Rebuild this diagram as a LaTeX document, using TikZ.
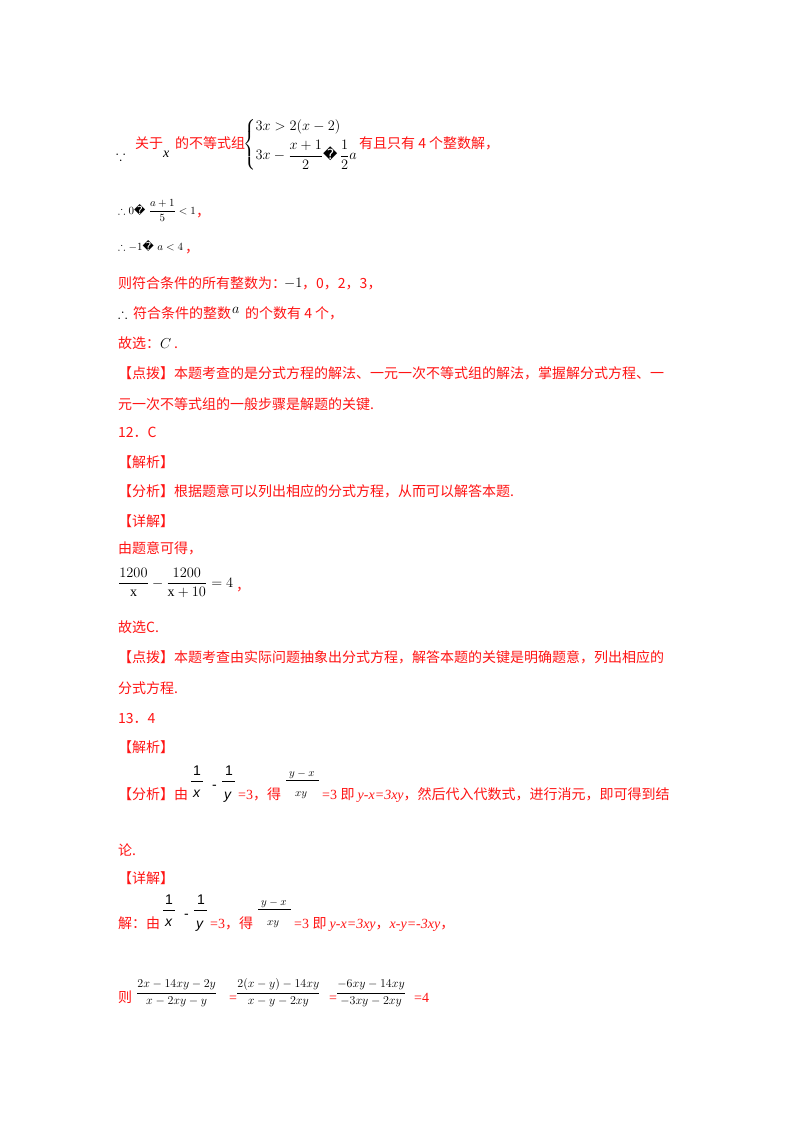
\documentclass[tikz,border=0pt]{standalone}
\usepackage{amsmath,amssymb}
\usepackage{fontspec}
\setmainfont{Liberation Serif}
\newfontfamily\cjk{Noto Sans CJK SC}
\newfontfamily\dv{DejaVu Sans}
\newfontfamily\lsans{Liberation Sans}
\definecolor{rd}{RGB}{255,20,20}
\begin{document}
\begin{tikzpicture}[x=1pt,y=-1pt,
  t/.style={anchor=base west,inner sep=0pt,text=rd,font=\cjk\fontsize{14}{14}\selectfont},
  m/.style={anchor=base west,inner sep=0pt,text=black,font=\fontsize{14}{14}\selectfont},
  s/.style={anchor=base west,inner sep=0pt,text=black,font=\fontsize{11}{11}\selectfont},
  f/.style={anchor=base west,inner sep=0pt,text=black,font=\fontsize{12.5}{12.5}\selectfont}]
\useasboundingbox[fill=white] (0,0) rectangle (800,1132);
% top system
\node[m] (a0) at (116,160) {$\because$};
\node[t] (a1) at (135,148) {关于};
\node[m] (a2) at (163,157) {$\mathit{x}$};
\node[t] (a3) at (175,148) {的不等式组};
\node[m] (a4) at (243,148) {$\left\{\begin{array}{@{}l@{}}3x>2(x-2)\\[6pt] 3x-\dfrac{x+1}{2}\text{\dv\char"FFFD\,}\dfrac{1}{2}a\end{array}\right.$};
\node[t] (a5) at (359,148) {有且只有 4 个整数解，};
% line 2
\node[s] (b0) at (118,214) {$\therefore 0$\dv\char"FFFD\ $\dfrac{a+1}{5}<1$};
\node[t] (b1) at (196,216) {，};
\node[s] (c0) at (118,250) {$\therefore -1$\dv\char"FFFD\ $a<4$};
\node[t] (c1) at (185,252) {，};
\node[t] (d0) at (118,288) {则符合条件的所有整数为：};
\node[m] (d1) at (284,287) {$-1$};
\node[t] (d2) at (302,288) {，0，2，3，};
\node[m] (e0) at (118,318) {$\therefore$};
\node[t] (e1) at (133,318) {符合条件的整数};
\node[m] (e2) at (232,313) {$a$};
\node[t] (e3) at (245,318) {的个数有 4 个，};
\node[t] (f0) at (118,348) {故选：};
\node[m] (f1) at (160,348) {$C$};
\node[t] (f2) at (174,348) {.};
\node[t] (g0) at (118,378) {【点拨】本题考查的是分式方程的解法、一元一次不等式组的解法，掌握解分式方程、一};
\node[t] (g1) at (118,409) {元一次不等式组的一般步骤是解题的关键.};
\node[t] (h0) at (118,437) {12．C};
\node[t] (h1) at (118,467) {【解析】};
\node[t] (h2) at (118,496) {【分析】根据题意可以列出相应的分式方程，从而可以解答本题.};
\node[t] (h3) at (118,526) {【详解】};
\node[t] (h4) at (118,553) {由题意可得，};
\node[m] (h5) at (118,587) {$\dfrac{1200}{\mathrm{x}}-\dfrac{1200}{\mathrm{x}+10}=4$};
\node[t] (h6) at (236,590) {，};
\node[t] (i0) at (118,632) {故选C.};
\node[t] (i1) at (118,662) {【点拨】本题考查由实际问题抽象出分式方程，解答本题的关键是明确题意，列出相应的};
\node[t] (i2) at (118,693) {分式方程.};
\node[t] (j0) at (118,723) {13．4};
\node[t] (j1) at (118,752) {【解析】};
% analysis line
\node[t] (k0) at (118,799) {【分析】由};
\node[m] (k1) at (193,775) {\lsans 1};
\draw (191,781) -- (203,781);
\node[m] (k2) at (193,797) {\lsans\itshape x};
\node[m] (k3) at (212,789) {\lsans -};
\node[m] (k4) at (225,775) {\lsans 1};
\draw (222,781) -- (235,781);
\node[m] (k5) at (224,799) {\lsans\itshape y};
\node[t] (k6) at (238,799) {\rmfamily =3\cjk ，得};
\node[s] (k7) at (289,776) {$y-x$};
\draw (286,780) -- (319,780);
\node[s] (k8) at (295,796) {$xy$};
\node[t] (k9) at (322,799) {\rmfamily =3 \cjk 即 \rmfamily\itshape y-x=3xy\upshape\cjk ，然后代入代数式，进行消元，即可得到结};
\node[t] (k10) at (118,855) {论.};
\node[t] (l0) at (118,883) {【详解】};
% solution line
\node[t] (m0) at (118,928) {解：由};
\node[m] (m1) at (165,904) {\lsans 1};
\draw (163,910) -- (175,910);
\node[m] (m2) at (165,926) {\lsans\itshape x};
\node[m] (m3) at (184,918) {\lsans -};
\node[m] (m4) at (197,904) {\lsans 1};
\draw (194,910) -- (207,910);
\node[m] (m5) at (196,928) {\lsans\itshape y};
\node[t] (m6) at (210,928) {\rmfamily =3\cjk ，得};
\node[s] (m7) at (261,905) {$y-x$};
\draw (258,909) -- (291,909);
\node[s] (m8) at (267,925) {$xy$};
\node[t] (m9) at (294,928) {\rmfamily =3 \cjk 即 \rmfamily\itshape y-x=3xy\upshape\cjk ，\rmfamily\itshape x-y=-3xy\upshape\cjk ，};
% final line
\node[t] (n0) at (118,1002) {则};
\node[f] (n1) at (136,996) {$\dfrac{2x-14xy-2y}{x-2xy-y}$};
\node[t] (n2) at (229,1002) {\rmfamily =};
\node[f] (n3) at (236,996) {$\dfrac{2(x-y)-14xy}{x-y-2xy}$};
\node[t] (n4) at (329,1002) {\rmfamily =};
\node[f] (n5) at (336,996) {$\dfrac{-6xy-14xy}{-3xy-2xy}$};
\node[t] (n6) at (414,1002) {\rmfamily =4};
\end{tikzpicture}
\end{document}
